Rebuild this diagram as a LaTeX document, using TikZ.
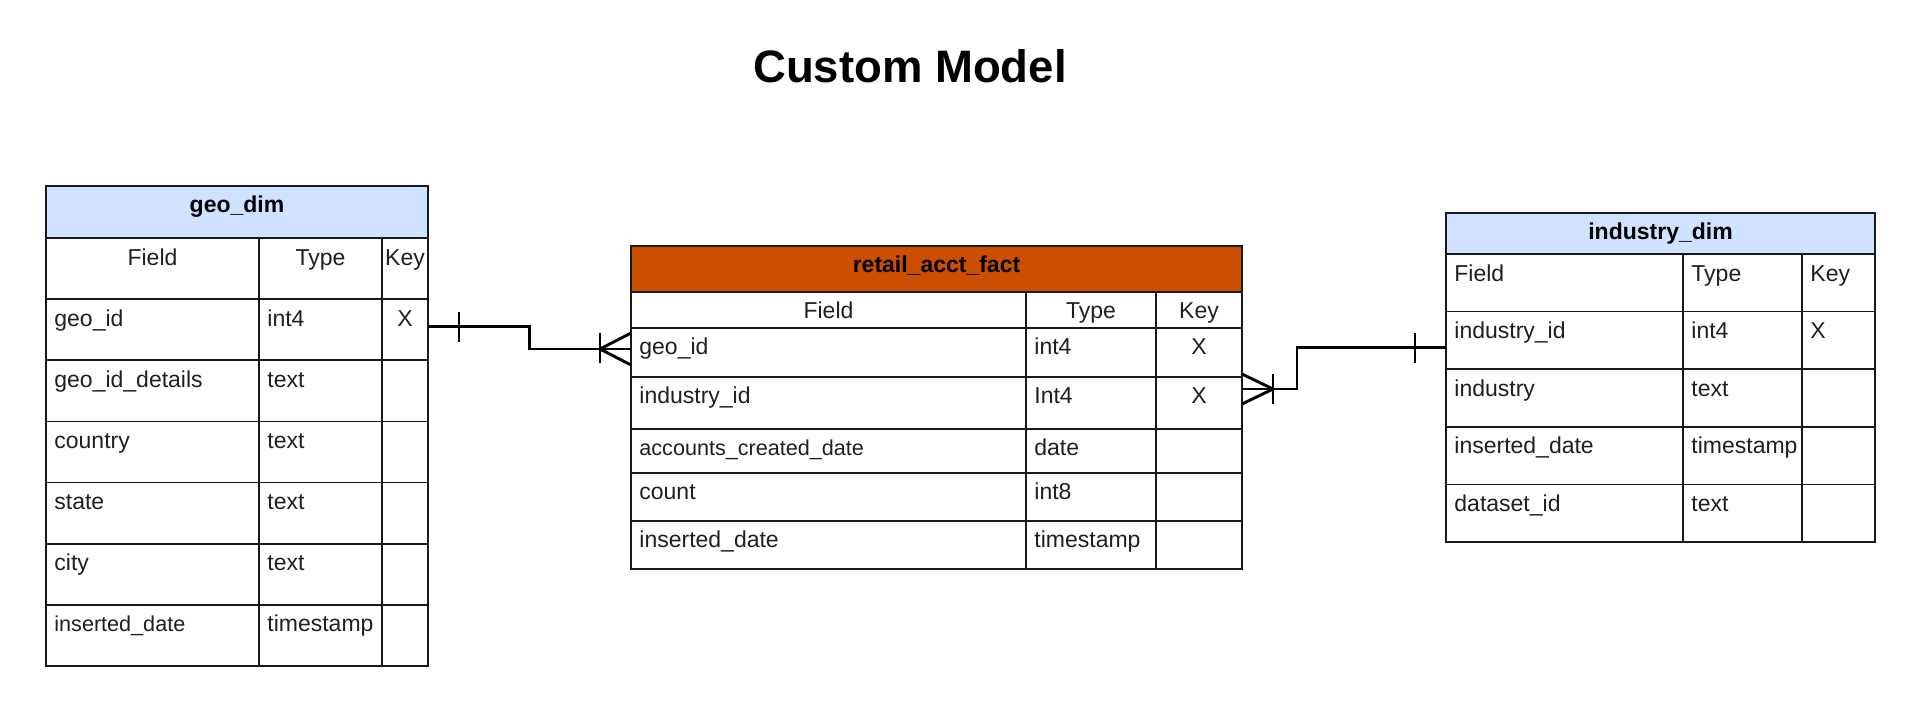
\documentclass[tikz,border=0pt]{standalone}
\usepackage{fontspec}
\setmainfont{Liberation Sans}
\usetikzlibrary{calc}
\definecolor{dimblue}{RGB}{207,226,255}
\definecolor{factorange}{RGB}{204,78,0}

\begin{document}
\begin{tikzpicture}[x=0.5pt, y=-0.5pt,
    box/.style={draw=black!90, line width=0.8pt, inner sep=0pt, outer sep=0pt, anchor=north west},
    rule/.style={draw=black!90, line width=0.8pt},
    cell/.style={font=\fontsize{11.5pt}{14pt}\selectfont, text=black!88, inner sep=0pt, anchor=base west},
    small/.style={font=\fontsize{10.8pt}{13pt}\selectfont},
    colhead/.style={cell, anchor=base},
    tabtitle/.style={font=\bfseries\fontsize{11.5pt}{14pt}\selectfont, inner sep=0pt, anchor=base},
    link/.style={line width=1.45pt}]

  \useasboundingbox (0,0) rectangle (1920,723);
  \node[font=\bfseries\fontsize{22.75pt}{27pt}\selectfont, inner sep=0pt, anchor=base] (title) at (910,82) {Custom Model};

  % geo_dim
  \node[box, fill=dimblue, minimum width=191pt, minimum height=26pt] (geo) at (46,186) {};
  \node[tabtitle] (geo-name) at (237,212) {geo\_dim};
  \foreach [count=\i from 0] \f/\t/\k in {Field/Type/Key, geo\_id/int4/X, geo\_id\_details/text/, country/text/, state/text/, city/text/, {\fontsize{10.8pt}{13pt}\selectfont inserted\_date}/timestamp/} {
    \pgfmathsetmacro\rowtop{238+61.14*\i}
    \node[box, minimum width=191pt, minimum height=30.57pt] (geo-\i) at (46,\rowtop) {};
    \draw[rule] (259,\rowtop) -- ++(0,61.14) (382,\rowtop) -- ++(0,61.14);
    \ifnum\i=0
      \node[colhead] (geo-\i-f) at (152.5,\rowtop+27) {\f};
      \node[colhead] (geo-\i-t) at (320.5,\rowtop+27) {\t};
    \else
      \node[cell] (geo-\i-f) at (54,\rowtop+27) {\f};
      \node[cell] (geo-\i-t) at (267,\rowtop+27) {\t};
    \fi
    \node[colhead] (geo-\i-k) at (405,\rowtop+27) {\k};
  }

  % retail_acct_fact
  \node[box, fill=factorange, minimum width=305.5pt, minimum height=23pt] (fact) at (631,246) {};
  \node[tabtitle] (fact-name) at (936.5,272) {retail\_acct\_fact};
  \foreach [count=\i from 0] \rowtop/\rowh/\f/\t/\k in {292/36/Field/Type/Key, 328/49/geo\_id/int4/X, 377/52/industry\_id/Int4/X, 429/44/{\fontsize{10.8pt}{13pt}\selectfont accounts\_created\_date}/date/, 473/48/count/int8/, 521/48/inserted\_date/timestamp/} {
    \node[box, minimum width=305.5pt, minimum height=\rowh*0.5pt] (fact-\i) at (631,\rowtop) {};
    \draw[rule] (1026,\rowtop) -- ++(0,\rowh) (1156,\rowtop) -- ++(0,\rowh);
    \ifnum\i=0
      \node[colhead] (fact-\i-f) at (828.5,\rowtop+26) {\f};
      \node[colhead] (fact-\i-t) at (1091,\rowtop+26) {\t};
    \else
      \node[cell] (fact-\i-f) at (639,\rowtop+26) {\f};
      \node[cell] (fact-\i-t) at (1034,\rowtop+26) {\t};
    \fi
    \node[colhead] (fact-\i-k) at (1199,\rowtop+26) {\k};
  }

  % industry_dim
  \node[box, fill=dimblue, minimum width=214.5pt, minimum height=20.5pt] (ind) at (1446,213) {};
  \node[tabtitle] (ind-name) at (1660.5,239) {industry\_dim};
  \foreach [count=\i from 0] \f/\t/\k in {Field/Type/Key, industry\_id/int4/X, industry/text/, inserted\_date/timestamp/, dataset\_id/text/} {
    \pgfmathsetmacro\rowtop{254+57.6*\i}
    \node[box, minimum width=214.5pt, minimum height=28.8pt] (ind-\i) at (1446,\rowtop) {};
    \draw[rule] (1683,\rowtop) -- ++(0,57.6) (1802,\rowtop) -- ++(0,57.6);
    \node[cell] (ind-\i-f) at (1454,\rowtop+27) {\f};
    \node[cell] (ind-\i-t) at (1691,\rowtop+27) {\t};
    \node[cell] (ind-\i-k) at (1810,\rowtop+27) {\k};
  }

  % geo_dim one -- many retail_acct_fact
  \draw[link] ($(geo-1.east)+(0,-3)$) -| ($(geo-1.east)!0.5!(fact-1.west)$) |- ($(fact-1.west)+(0,-3.5)$);
  \draw[link] ($(geo-1.east)+(31,-18)$) -- ++(0,30);
  \draw[link] ($(fact-1.west)+(-31,-19.5)$) -- ++(0,30);
  \draw[link] ($(fact-1.west)+(0,-19.5)$) -- ($(fact-1.west)+(-31,-3.5)$) -- ($(fact-1.west)+(0,12.5)$);

  % industry_dim one -- many retail_acct_fact
  \draw[link] ($(fact-2.east)+(0,-14)$) -| ($(fact-2.east)+(55,-30)$) |- ($(ind-1.west)+(0,7.5)$);
  \draw[link] ($(fact-2.east)+(31,-29)$) -- ++(0,30);
  \draw[link] ($(fact-2.east)+(0,-29)$) -- ($(fact-2.east)+(31,-14)$) -- ($(fact-2.east)+(0,1)$);
  \draw[link] ($(ind-1.west)+(-31,-7.5)$) -- ++(0,30);
\end{tikzpicture}
\end{document}
